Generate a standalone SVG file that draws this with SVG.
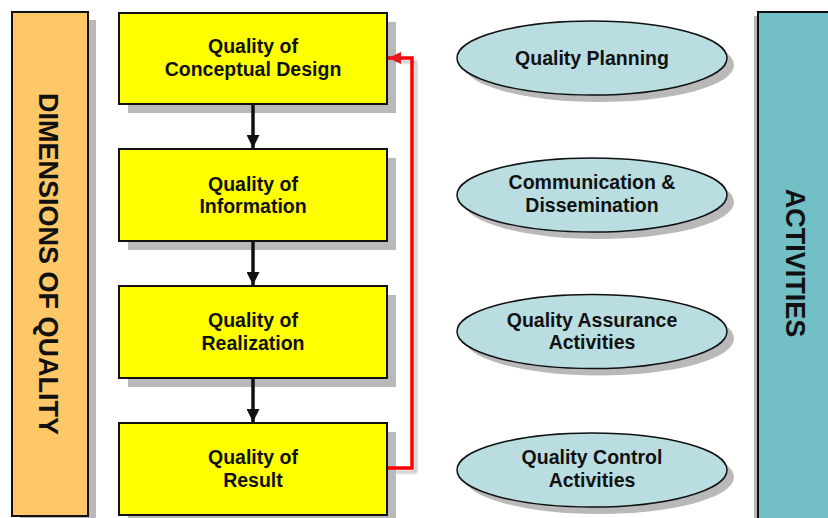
<svg xmlns="http://www.w3.org/2000/svg" width="828" height="518" viewBox="0 0 828 518">
  <defs>
    <style>
      .shadow { fill: #b9b9b9; }
      .box { fill: #ffff00; stroke: #111; stroke-width: 2; }
      .oval { fill: #b9dde0; stroke: #111; stroke-width: 1.5; }
      .lbl { font-family: "Liberation Sans", Arial, sans-serif; font-weight: bold; font-size: 19.5px; fill: #111; text-anchor: middle; }
      .side { font-family: "Liberation Sans", Arial, sans-serif; font-weight: bold; font-size: 27px; fill: #111; text-anchor: middle; }
      .flow { stroke: #111; stroke-width: 3.5; fill: none; }
      .loop { stroke: #ff0000; stroke-width: 3.5; fill: none; }
    </style>
    <marker id="ah" viewBox="0 0 13 13" refX="13" refY="6.5" markerWidth="13" markerHeight="13" markerUnits="userSpaceOnUse" orient="auto">
      <path d="M0,0 L13,6.5 L0,13 z" fill="#111"/>
    </marker>
    <marker id="ahRed" viewBox="0 0 13 12" refX="13" refY="6" markerWidth="13" markerHeight="12" markerUnits="userSpaceOnUse" orient="auto">
      <path d="M0,0 L13,6 L0,12 z" fill="#e8191e"/>
    </marker>
    <filter id="soft" x="-10%" y="-10%" width="120%" height="120%">
      <feGaussianBlur stdDeviation="1"/>
    </filter>
  </defs>

  <rect width="828" height="518" fill="#ffffff"/>

  <!-- left band: dimensions -->
  <g id="dimensions">
    <rect class="shadow" x="20" y="20" width="76" height="504"/>
    <rect x="12" y="12" width="76" height="504" fill="#fec868" stroke="#111" stroke-width="2"/>
    <text class="side" transform="translate(39,264) rotate(90)">DIMENSIONS OF QUALITY</text>
  </g>

  <!-- right band: activities -->
  <g id="activities">
    <rect class="shadow" x="754" y="16" width="80" height="510"/>
    <rect x="758" y="12" width="80" height="510" fill="#72bfc5" stroke="#111" stroke-width="2"/>
    <text class="side" transform="translate(786,263) rotate(90)">ACTIVITIES</text>
  </g>

  <!-- quality boxes -->
  <g id="conceptual-design">
    <rect class="shadow" x="128" y="22" width="268" height="91"/>
    <rect class="box" x="119" y="13" width="268" height="91"/>
    <text class="lbl" x="253" y="53">Quality of</text>
    <text class="lbl" x="253" y="76">Conceptual Design</text>
  </g>
  <g id="information">
    <rect class="shadow" x="128" y="158" width="268" height="92"/>
    <rect class="box" x="119" y="149" width="268" height="92"/>
    <text class="lbl" x="253" y="191">Quality of</text>
    <text class="lbl" x="253" y="213">Information</text>
  </g>
  <g id="realization">
    <rect class="shadow" x="128" y="295" width="268" height="92"/>
    <rect class="box" x="119" y="286" width="268" height="92"/>
    <text class="lbl" x="253" y="327">Quality of</text>
    <text class="lbl" x="253" y="350">Realization</text>
  </g>
  <g id="result">
    <rect class="shadow" x="128" y="432" width="268" height="92"/>
    <rect class="box" x="119" y="423" width="268" height="92"/>
    <text class="lbl" x="253" y="464">Quality of</text>
    <text class="lbl" x="253" y="487">Result</text>
  </g>

  <!-- activity ovals -->
  <g id="planning">
    <ellipse class="shadow" cx="599" cy="65" rx="135" ry="37"/>
    <ellipse class="oval" cx="592" cy="58" rx="135" ry="37"/>
    <text class="lbl" x="592" y="65">Quality Planning</text>
  </g>
  <g id="communication">
    <ellipse class="shadow" cx="599" cy="202" rx="135" ry="37"/>
    <ellipse class="oval" cx="592" cy="195" rx="135" ry="37"/>
    <text class="lbl" x="592" y="189">Communication &amp;</text>
    <text class="lbl" x="592" y="212">Dissemination</text>
  </g>
  <g id="assurance">
    <ellipse class="shadow" cx="599" cy="338.5" rx="135" ry="37"/>
    <ellipse class="oval" cx="592" cy="331.5" rx="135" ry="37"/>
    <text class="lbl" x="592" y="327">Quality Assurance</text>
    <text class="lbl" x="592" y="349">Activities</text>
  </g>
  <g id="control">
    <ellipse class="shadow" cx="599" cy="477" rx="135" ry="37"/>
    <ellipse class="oval" cx="592" cy="470" rx="135" ry="37"/>
    <text class="lbl" x="592" y="464">Quality Control</text>
    <text class="lbl" x="592" y="487">Activities</text>
  </g>

  <!-- connectors -->
  <g id="connectors">
    <line class="flow" x1="253" y1="105" x2="253" y2="148" marker-end="url(#ah)"/>
    <line class="flow" x1="253" y1="242" x2="253" y2="285" marker-end="url(#ah)"/>
    <line class="flow" x1="253" y1="379" x2="253" y2="422" marker-end="url(#ah)"/>
    <path d="M396,472 H416 V62 H402" stroke="#c8c8c8" stroke-width="3" fill="none" filter="url(#soft)"/>
    <path class="loop" d="M388,468 H412 V58 H388" marker-end="url(#ahRed)"/>
  </g>
</svg>
